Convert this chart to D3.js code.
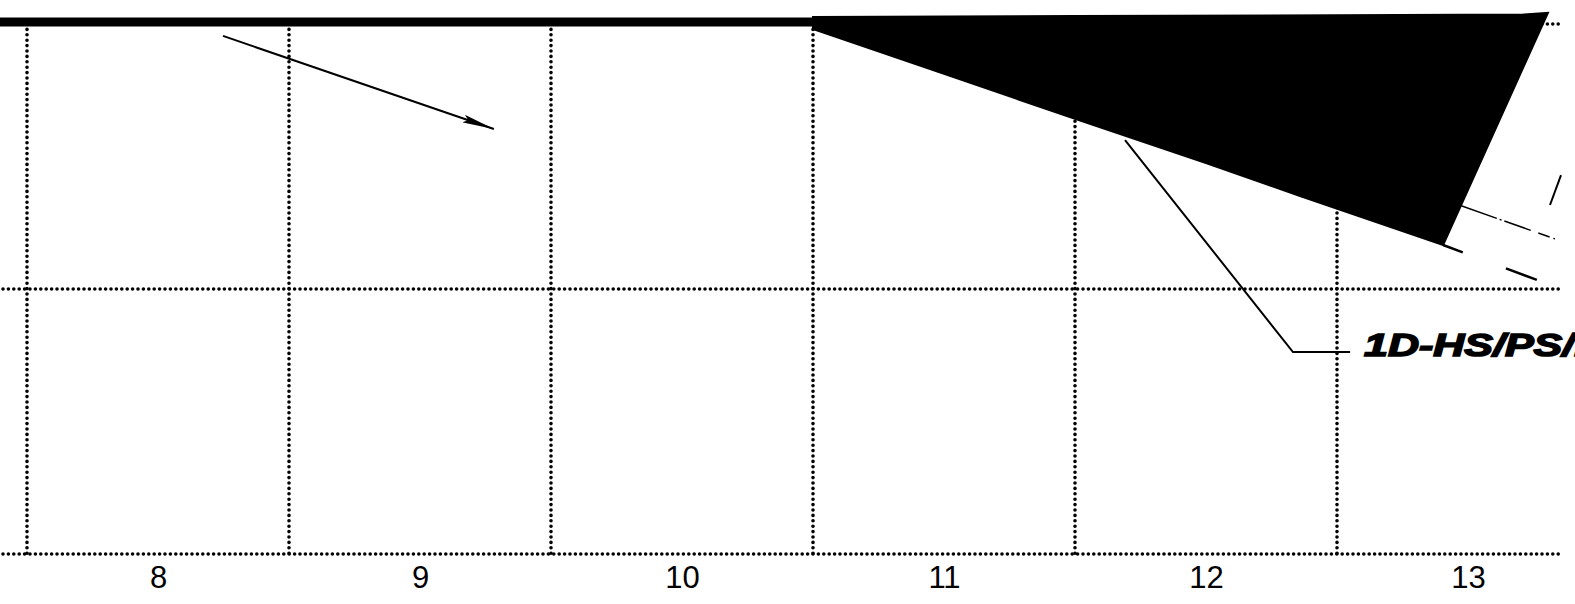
<!DOCTYPE html>
<html>
<head>
<meta charset="utf-8">
<script src="https://cdn.jsdelivr.net/npm/d3@7"></script>
<style>
  body { margin: 0; background: #fff; }
  svg { display: block; }
</style>
</head>
<body>
<svg width="1575" height="604"></svg>
<script>
// x categories (column labels) and grid positions
var categories = [8, 9, 10, 11, 12, 13];
var gridX = [7.5, 8.5, 9.5, 10.5, 11.5, 12.5];
var gridY = [0, 1, 2];

// thick upper boundary line, left part
var topLine = [[7.39, 2.008], [10.5, 2.008]];

// shaded region: upper edge then lower edge (back)
var bandUpper = [[10.5, 2.026], [11.5, 2.03], [12.5, 2.033], [13.21, 2.036], [13.305, 2.042]];
var bandLower = [[10.5, 1.981], [11.0, 1.812], [11.5, 1.642], [12.0, 1.475], [12.359, 1.351], [12.905, 1.166]];

// continuation lines past the shaded region
var dashLower = [[12.905, 1.166], [13.275, 1.03]];
var dashUpper = [[12.966, 1.317], [13.332, 1.189]];
var slantStroke = [[13.313, 1.317], [13.355, 1.43]];

// arrow and label leader
var arrowPts = [[8.248, 1.955], [9.282, 1.604]];
var leaderPts = [[11.691, 1.562], [12.332, 0.762], [12.55, 0.762]];
var labelText = "1D-HS/PS/I";

var svg = d3.select("svg"),
    width = +svg.attr("width"),
    height = +svg.attr("height");

var xScale = d3.scaleLinear().domain([7.5, 13.5]).range([27, 1599]),
    yScale = d3.scaleLinear().domain([0, 2]).range([554, 24]);

var line = d3.line()
    .x(function(d) { return xScale(d[0]); })
    .y(function(d) { return yScale(d[1]); });

svg.append("rect").attr("width", width).attr("height", height).attr("fill", "#fff");

var defs = svg.append("defs");
defs.append("marker")
    .attr("id", "head")
    .attr("viewBox", "0 0 32 8")
    .attr("refX", 32).attr("refY", 4)
    .attr("markerWidth", 32).attr("markerHeight", 8)
    .attr("markerUnits", "userSpaceOnUse")
    .attr("orient", "auto")
  .append("path")
    .attr("d", "M0,0 L32,4 L0,8 L5,4 Z")
    .attr("fill", "#000");

// dotted grid
var grid = svg.append("g").attr("fill", "none").attr("stroke", "#000")
    .attr("stroke-width", 3.6).attr("stroke-linecap", "round")
    .attr("stroke-dasharray", "0 5.4");

grid.selectAll(".vgrid")
    .data(gridX)
    .enter().append("line")
    .attr("class", "vgrid")
    .attr("x1", function(d) { return xScale(d); })
    .attr("x2", function(d) { return xScale(d); })
    .attr("y1", yScale(2))
    .attr("y2", yScale(0));

grid.selectAll(".hgrid")
    .data(gridY)
    .enter().append("line")
    .attr("class", "hgrid")
    .attr("x1", 3)
    .attr("x2", 1562)
    .attr("y1", function(d) { return yScale(d); })
    .attr("y2", function(d) { return yScale(d); });

// heavy top line
svg.append("path")
    .datum(topLine)
    .attr("d", line)
    .attr("fill", "none")
    .attr("stroke", "#000")
    .attr("stroke-width", 9);

// shaded region
svg.append("path")
    .datum(bandUpper.concat(bandLower.slice().reverse()))
    .attr("d", function(d) { return line(d) + "Z"; })
    .attr("fill", "#000")
    .attr("stroke", "#000")
    .attr("stroke-width", 2);

// continuation lines
svg.append("path")
    .datum(dashLower)
    .attr("d", line)
    .attr("fill", "none")
    .attr("stroke", "#000")
    .attr("stroke-width", 2.5)
    .attr("stroke-dasharray", "33 46")
    .attr("stroke-dashoffset", 12);

svg.append("path")
    .datum(dashUpper)
    .attr("d", line)
    .attr("fill", "none")
    .attr("stroke", "#000")
    .attr("stroke-width", 1.5)
    .attr("stroke-dasharray", "40 3 2 3 28 8 12 4");

svg.append("path")
    .datum(slantStroke)
    .attr("d", line)
    .attr("fill", "none")
    .attr("stroke", "#000")
    .attr("stroke-width", 2);

// arrow
svg.append("path")
    .datum(arrowPts)
    .attr("d", line)
    .attr("fill", "none")
    .attr("stroke", "#000")
    .attr("stroke-width", 2)
    .attr("marker-end", "url(#head)");

// leader line and label
svg.append("path")
    .datum(leaderPts)
    .attr("d", line)
    .attr("fill", "none")
    .attr("stroke", "#000")
    .attr("stroke-width", 2);

svg.append("text")
    .attr("x", xScale(leaderPts[2][0]) + 14)
    .attr("y", yScale(leaderPts[2][1]) + 4)
    .attr("font-family", "Liberation Sans, Arial, sans-serif")
    .attr("font-weight", "bold")
    .attr("font-style", "italic")
    .attr("font-size", 32)
    .attr("stroke", "#000")
    .attr("stroke-width", 1.6)
    .attr("textLength", 222)
    .attr("lengthAdjust", "spacingAndGlyphs")
    .text(labelText);

// x axis labels
var xAxis = svg.append("g")
    .attr("transform", "translate(0," + yScale(0) + ")")
    .call(d3.axisBottom(xScale).tickValues(categories).tickSize(0).tickPadding(0)
      .tickFormat(function(d) { return d; }));

xAxis.select(".domain").remove();
xAxis.selectAll("text")
    .attr("font-family", "Liberation Sans, Arial, sans-serif")
    .attr("font-size", 31)
    .attr("fill", "#000")
    .attr("y", 34)
    .attr("dy", 0);
</script>
</body>
</html>
